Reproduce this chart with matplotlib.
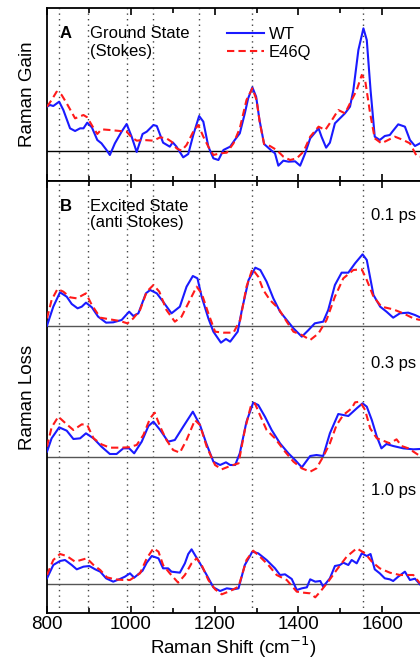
import numpy as np
import matplotlib
matplotlib.use('Agg')
import matplotlib.pyplot as plt
from matplotlib.ticker import MultipleLocator

plt.rcParams['font.family'] = ['Liberation Sans', 'DejaVu Sans']

# Raman shift positions and intensities (arbitrary units)
# ---- Panel A: ground state (Stokes) ----
a_wt_x = [800, 807, 815, 829, 839, 855, 867, 879, 887, 896, 907, 920, 930, 942, 950, 962, 978, 990,
          1002, 1014, 1028, 1038, 1054, 1062, 1077, 1093, 1100, 1109, 1125, 1137, 1149, 1163, 1173,
          1185, 1197, 1209, 1221, 1237, 1248, 1260, 1272, 1280, 1290, 1299, 1307, 1318, 1334, 1344,
          1352, 1364, 1376, 1392, 1404, 1416, 1428, 1448, 1455, 1466, 1475, 1487, 1499, 1511, 1523,
          1531, 1543, 1555, 1563, 1572, 1582, 1594, 1606, 1618, 1624, 1638, 1654, 1666, 1678, 1690]
a_wt_y = [133, 138, 135, 148, 123, 68, 60, 68, 68, 85, 71, 33, 23, 3, -12, 23, 58, 81,
          43, -3, 51, 58, 78, 75, 25, 13, 26, 13, -19, -9, 48, 105, 88,
          13, -22, -27, 3, 13, 33, 53, 113, 158, 191, 163, 93, 21, 3, -7,
          -44, -29, -32, -31, -44, -7, 38, 68, 43, 10, 25, 83, 98, 113, 133,
          183, 303, 368, 333, 183, 43, 33, 45, 48, 58, 80, 73, 33, 15, 23]
a_mu_x = [800, 811, 823, 835, 847, 867, 887, 896, 909, 920, 930, 950, 974, 990, 1002, 1014, 1030,
          1054, 1070, 1085, 1097, 1109, 1121, 1133, 1149, 1161, 1173, 1185, 1197, 1213, 1229, 1245,
          1260, 1276, 1290, 1300, 1308, 1318, 1332, 1348, 1364, 1380, 1396, 1412, 1428, 1448, 1464,
          1480, 1495, 1511, 1527, 1539, 1551, 1559, 1571, 1582, 1598, 1614, 1630, 1650, 1666, 1682, 1690]
a_mu_y = [133, 153, 178, 168, 143, 98, 108, 101, 73, 51, 65, 63, 60, 58, 41, 31, 33,
          31, 41, 38, 28, 8, 1, 18, 58, 78, 43, 13, -12, -7, -5, 23,
          68, 153, 188, 153, 83, 21, 15, 3, -17, -27, -22, -2, 43, 73, 63,
          93, 123, 113, 153, 183, 228, 213, 113, 38, 23, 33, 43, 33, 23, -15, -17]

# ---- Panel B: excited state (anti Stokes), 0.1 ps ----
b1_wt_x = [800, 815, 831, 847, 859, 873, 883, 893, 907, 922, 941, 958, 978, 996, 1006, 1018, 1036,
           1046, 1062, 1077, 1097, 1117, 1133, 1148, 1159, 1169, 1185, 1197, 1215, 1227, 1237, 1255,
           1265, 1281, 1297, 1309, 1324, 1340, 1356, 1372, 1388, 1408, 1424, 1439, 1459, 1471, 1487,
           1503, 1519, 1535, 1553, 1563, 1579, 1595, 1610, 1626, 1642, 1662, 1678, 1690]
b1_wt_y = [0, 57, 100, 87, 65, 52, 57, 69, 55, 27, 9, 10, 17, 42, 29, 37, 97,
           107, 97, 72, 37, 57, 117, 149, 142, 87, 22, -18, -51, -40, -48, -18,
           47, 137, 174, 167, 132, 82, 42, 17, -8, -33, -13, 7, 12, 47, 122,
           159, 159, 187, 214, 197, 92, 57, 42, 24, 37, 39, 32, 25]
b1_mu_x = [800, 811, 825, 839, 855, 871, 893, 907, 927, 950, 974, 992, 1006, 1022, 1038, 1054, 1068,
           1085, 1105, 1121, 1141, 1157, 1169, 1185, 1201, 1221, 1245, 1261, 1276, 1290, 1304, 1316,
           1332, 1352, 1372, 1388, 1408, 1428, 1448, 1467, 1487, 1507, 1531, 1551, 1563, 1579, 1598,
           1626, 1650, 1674, 1690]
b1_mu_y = [22, 77, 110, 102, 85, 82, 97, 62, 24, 19, 14, 7, 22, 47, 102, 122, 102,
           47, 12, 27, 77, 117, 97, 37, -18, -21, -21, 17, 117, 170, 147, 107,
           77, 52, 12, -18, -28, -43, -23, 17, 87, 142, 167, 169, 137, 87, 57,
           49, 37, 22, 17]

# ---- 0.3 ps ----
b3_wt_x = [800, 811, 829, 847, 863, 879, 893, 911, 930, 950, 966, 982, 996, 1008, 1026, 1042, 1054,
           1070, 1089, 1105, 1125, 1148, 1165, 1180, 1197, 1213, 1227, 1237, 1249, 1260, 1276, 1292,
           1304, 1320, 1336, 1356, 1376, 1392, 1408, 1428, 1443, 1459, 1475, 1495, 1519, 1539, 1553,
           1563, 1575, 1587, 1598, 1610, 1626, 1650, 1674, 1690]
b3_wt_y = [15, 55, 88, 78, 53, 55, 70, 55, 30, 8, 8, 25, 25, 10, 45, 92, 105,
           80, 45, 50, 90, 135, 95, 40, -15, -25, -17, -25, -25, 10, 105, 162,
           155, 120, 80, 40, 10, -10, -32, 2, 5, 2, 70, 128, 122, 145, 160,
           150, 110, 60, 25, 38, 32, 25, 22, 23]
b3_mu_x = [800, 811, 827, 847, 863, 883, 896, 911, 930, 950, 974, 994, 1014, 1030, 1046, 1057, 1070,
           1085, 1101, 1117, 1133, 1153, 1165, 1181, 1201, 1217, 1237, 1257, 1272, 1286, 1296, 1308,
           1324, 1344, 1368, 1388, 1408, 1428, 1443, 1459, 1475, 1491, 1507, 1527, 1535, 1547, 1559,
           1571, 1587, 1602, 1618, 1634, 1646, 1662, 1678, 1690]
b3_mu_y = [30, 88, 120, 97, 80, 97, 95, 55, 37, 27, 27, 28, 35, 65, 115, 132, 90,
           50, 20, 12, 50, 110, 95, 30, -25, -38, -28, -20, 80, 150, 160, 125,
           80, 55, 15, -15, -35, -45, -35, 0, 40, 95, 125, 145, 163, 165, 140,
           85, 55, 48, 40, 52, 32, 25, 12, 2]

# ---- 1.0 ps ----
b10_wt_x = [800, 815, 831, 843, 859, 871, 887, 901, 915, 927, 941, 958, 974, 986, 998, 1008, 1028,
            1038, 1050, 1066, 1077, 1089, 1097, 1117, 1129, 1137, 1145, 1153, 1165, 1181, 1197, 1213,
            1229, 1245, 1257, 1272, 1290, 1304, 1324, 1344, 1356, 1368, 1384, 1396, 1408, 1420, 1428,
            1440, 1452, 1459, 1475, 1487, 1499, 1507, 1519, 1527, 1539, 1551, 1563, 1572, 1582, 1594,
            1606, 1618, 1626, 1638, 1654, 1666, 1678, 1690]
b10_wt_y = [16, 56, 68, 71, 56, 43, 51, 53, 43, 36, 16, 6, 14, 21, 31, 18, 39,
            63, 83, 76, 46, 46, 36, 33, 61, 89, 103, 86, 61, 26, -11, -22,
            -14, -17, -14, 56, 96, 91, 71, 46, 26, 28, 14, -19, -14, -11, 13,
            6, 8, -9, 16, 53, 56, 63, 56, 71, 61, 91, 83, 89, 43, 31,
            16, 13, 8, 21, 36, 11, 15, -2]
b10_mu_x = [800, 815, 831, 847, 867, 895, 911, 927, 943, 962, 982, 998, 1022, 1038, 1054, 1066, 1077,
            1093, 1113, 1129, 1145, 1157, 1169, 1185, 1201, 1217, 1237, 1257, 1276, 1292, 1308, 1328,
            1348, 1372, 1396, 1412, 1428, 1440, 1452, 1471, 1491, 1515, 1539, 1559, 1575, 1594, 1618,
            1642, 1658, 1674, 1690]
b10_mu_y = [26, 71, 89, 83, 66, 76, 56, 41, 19, 13, 11, 11, 31, 76, 106, 96, 56,
            31, 3, 26, 61, 76, 56, 11, -17, -32, -22, -9, 71, 99, 81, 56,
            26, 11, -24, -27, -29, -41, -24, 6, 41, 81, 106, 91, 66, 46, 33,
            26, 26, 26, 1]

b_traces = [(b1_wt_x, b1_wt_y, b1_mu_x, b1_mu_y, '0.1 ps'),
            (b3_wt_x, b3_wt_y, b3_mu_x, b3_mu_y, '0.3 ps'),
            (b10_wt_x, b10_wt_y, b10_mu_x, b10_mu_y, '1.0 ps')]
b_offsets = [0, -393, -774]
b_label_y = [330, 280, 280]

marker_lines = [829, 898, 990, 1054, 1163, 1288, 1555]

WT_COLOR = '#1a1aff'
MU_COLOR = '#ff1a1a'

fig = plt.figure(figsize=(4.2, 6.65), dpi=100)
axA = fig.add_axes([47 / 420, 1 - 181 / 665, 1 - 47 / 420, 173 / 665])
axB = fig.add_axes([47 / 420, 1 - 613 / 665, 1 - 47 / 420, 432 / 665], sharex=axA)

for ax in (axA, axB):
    ax.set_xlim(800, 1690)
    ax.spines['right'].set_visible(False)
    for s in ('left', 'top', 'bottom'):
        ax.spines[s].set_linewidth(1.3)
    ax.set_yticks([])
    ax.xaxis.set_major_locator(MultipleLocator(200))
    ax.xaxis.set_minor_locator(MultipleLocator(100))
    ax.tick_params(axis='x', which='major', direction='in', length=5, width=1.2,
                   top=True, bottom=True, labelsize=13.5, pad=2.5)
    ax.tick_params(axis='x', which='minor', direction='in', length=3.5, width=1.2,
                   top=True, bottom=True)
    for m in marker_lines:
        ax.axvline(m, color='#444444', lw=1.0, ls=(0, (1, 3)), zorder=1)

# Panel A
axA.set_ylim(-90, 429)
axA.axhline(0, color='black', lw=1.0, zorder=2)
axA.plot(a_wt_x, a_wt_y, color=WT_COLOR, lw=1.5, label='WT', zorder=3)
axA.plot(a_mu_x, a_mu_y, color=MU_COLOR, lw=1.5, ls=(0, (3.5, 2)), label='E46Q', zorder=4)
axA.tick_params(axis='x', labelbottom=False)
axA.set_ylabel('Raman Gain', fontsize=13.5, labelpad=8)
axA.text(0.035, 0.85, 'A', transform=axA.transAxes, fontsize=12, fontweight='bold', va='center')
axA.text(0.115, 0.85, 'Ground State', transform=axA.transAxes, fontsize=12, va='center')
axA.text(0.115, 0.75, '(Stokes)', transform=axA.transAxes, fontsize=12, va='center')
axA.legend(loc='upper left', bbox_to_anchor=(0.465, 0.93), frameon=False, fontsize=12,
           handlelength=2.2, handletextpad=0.3, labelspacing=0.2, borderaxespad=0.0)

# Panel B
axB.set_ylim(-862, 434)
for (wx, wy, mx, my, lab), off, ly in zip(b_traces, b_offsets, b_label_y):
    axB.axhline(off, color='#555555', lw=1.0, zorder=2)
    axB.plot(wx, np.array(wy) + off, color=WT_COLOR, lw=1.5, zorder=3)
    axB.plot(mx, np.array(my) + off, color=MU_COLOR, lw=1.5, ls=(0, (3.5, 2)), zorder=4)
    axB.text(1680, off + ly, lab, fontsize=12, ha='right', va='center')
axB.set_ylabel('Raman Loss', fontsize=13.5, labelpad=8)
axB.set_xlabel('Raman Shift (cm$^{-1}$)', fontsize=13.5, labelpad=1)
axB.text(0.035, 0.942, 'B', transform=axB.transAxes, fontsize=12, fontweight='bold', va='center')
axB.text(0.115, 0.942, 'Excited State', transform=axB.transAxes, fontsize=12, va='center')
axB.text(0.115, 0.903, '(anti Stokes)', transform=axB.transAxes, fontsize=12, va='center')

fig.savefig('out.png', dpi=100)
